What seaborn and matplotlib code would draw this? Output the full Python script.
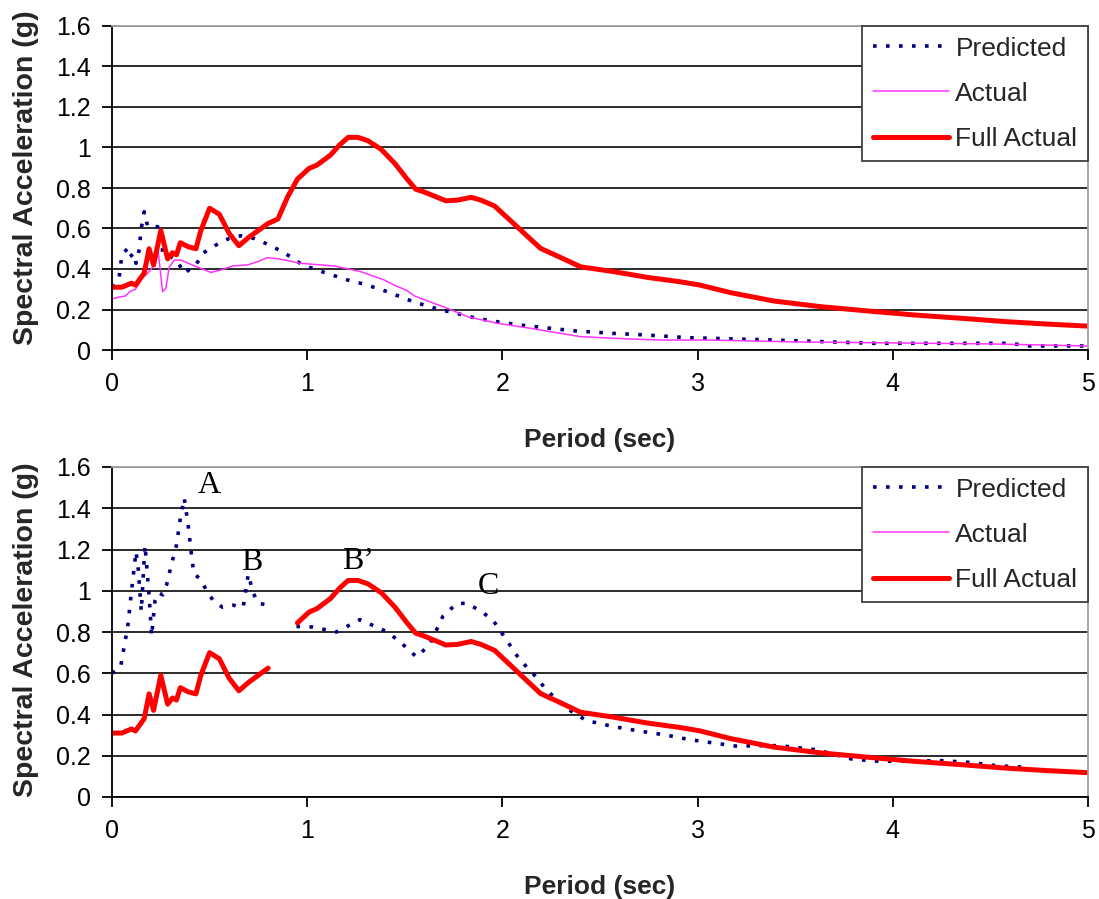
import numpy as np
import pandas as pd
import matplotlib
matplotlib.use("Agg")
import matplotlib.pyplot as plt
import seaborn as sns
from matplotlib.lines import Line2D
from matplotlib.ticker import FuncFormatter

# ---------------- data ----------------
# Full Actual (same record in both panels)
full_T = [0, 0.05, 0.1, 0.12, 0.165, 0.19, 0.213, 0.25, 0.285, 0.31, 0.33, 0.35, 0.39, 0.43,
          0.455, 0.50, 0.55, 0.60, 0.65, 0.70, 0.80, 0.85, 0.90, 0.95, 1.01, 1.05, 1.12, 1.165,
          1.21, 1.26, 1.31, 1.38, 1.45, 1.51, 1.556, 1.60, 1.71, 1.77, 1.84, 1.89, 1.96, 2.075,
          2.195, 2.30, 2.40, 2.57, 2.74, 2.91, 3.01, 3.17, 3.39, 3.63, 3.87, 4.11, 4.36, 4.58,
          4.79, 5.0]
full_SA = [0.31, 0.31, 0.33, 0.32, 0.38, 0.50, 0.42, 0.59, 0.45, 0.48, 0.47, 0.53, 0.51, 0.50,
           0.59, 0.70, 0.67, 0.576, 0.515, 0.556, 0.625, 0.647, 0.757, 0.844, 0.897, 0.913, 0.963,
           1.012, 1.05, 1.05, 1.034, 0.99, 0.92, 0.846, 0.794, 0.78, 0.737, 0.74, 0.754, 0.74,
           0.711, 0.609, 0.502, 0.456, 0.411, 0.387, 0.359, 0.337, 0.321, 0.283, 0.242, 0.214,
           0.193, 0.173, 0.156, 0.14, 0.128, 0.118]

# Actual (top panel)
act_T = [0, 0.03, 0.07, 0.09, 0.12, 0.155, 0.19, 0.216, 0.237, 0.259, 0.276, 0.293, 0.319,
         0.353, 0.404, 0.455, 0.507, 0.558, 0.617, 0.694, 0.745, 0.796, 0.865, 0.967, 1.138,
         1.274, 1.394, 1.445, 1.513, 1.547, 1.65, 1.718, 1.82, 1.974, 2.145, 2.40, 2.656, 2.83,
         3.07, 3.5, 4.0, 4.5, 5.0]
act_SA = [0.252, 0.26, 0.267, 0.288, 0.30, 0.354, 0.387, 0.42, 0.485, 0.288, 0.305, 0.41,
          0.444, 0.444, 0.423, 0.403, 0.383, 0.395, 0.415, 0.42, 0.436, 0.456, 0.448, 0.428,
          0.415, 0.387, 0.346, 0.321, 0.293, 0.268, 0.23, 0.206, 0.165, 0.132, 0.107, 0.066,
          0.054, 0.049, 0.049, 0.04, 0.035, 0.03, 0.02]

# Predicted (top panel)
pred_T = [0, 0.037, 0.043, 0.055, 0.08, 0.09, 0.114, 0.123, 0.14, 0.148, 0.165, 0.183, 0.21,
          0.234, 0.247, 0.284, 0.302, 0.336, 0.37, 0.43, 0.464, 0.532, 0.60, 0.66, 0.728,
          0.788, 0.856, 0.916, 0.976, 1.10, 1.223, 1.29, 1.41, 1.547, 1.684, 1.752, 1.87, 1.99,
          2.12, 2.247, 2.375, 2.57, 2.74, 2.946, 3.4, 3.9, 4.6, 4.7, 5.0]
pred_SA = [0.31, 0.36, 0.42, 0.477, 0.50, 0.46, 0.477, 0.428, 0.497, 0.59, 0.683, 0.609, 0.61,
           0.609, 0.494, 0.494, 0.46, 0.436, 0.379, 0.42, 0.477, 0.518, 0.551, 0.564, 0.551,
           0.526, 0.494, 0.46, 0.42, 0.379, 0.341, 0.326, 0.288, 0.237, 0.198, 0.184, 0.156,
           0.137, 0.12, 0.107, 0.094, 0.082, 0.074, 0.061, 0.049, 0.033, 0.033, 0.02, 0.02]

# Predicted (bottom panel)
pred2_T = [0, 0.044, 0.066, 0.08, 0.10, 0.123, 0.135, 0.15, 0.169, 0.19, 0.203, 0.22, 0.24,
           0.26, 0.28, 0.305, 0.33, 0.35, 0.37, 0.39, 0.41, 0.42, 0.45, 0.485, 0.52, 0.566,
           0.62, 0.672, 0.698, 0.723, 0.749, 0.80, 0.877,
           0.945, 1.03, 1.15, 1.27, 1.405, 1.474, 1.56, 1.627, 1.695, 1.764, 1.815, 1.883,
           1.95, 2.02, 2.088, 2.156, 2.225, 2.327, 2.43, 2.566, 2.70, 2.84, 2.96, 3.21, 3.28,
           3.42, 3.61, 3.79, 3.93, 4.25, 4.39, 4.53, 4.66]
pred2_SA = [0.60, 0.63, 0.75, 0.82, 1.00, 1.19, 1.10, 0.90, 1.22, 0.98, 0.78, 0.95, 0.99,
            0.98, 1.03, 1.13, 1.22, 1.35, 1.45, 1.32, 1.15, 1.08, 1.06, 1.00, 0.95, 0.92,
            0.93, 0.92, 1.08, 0.99, 0.94, 0.93, 0.915,
            0.827, 0.824, 0.80, 0.86, 0.803, 0.754, 0.679, 0.738, 0.876, 0.937, 0.94, 0.905,
            0.86, 0.763, 0.666, 0.60, 0.52, 0.431, 0.371, 0.342, 0.32, 0.30, 0.278, 0.245,
            0.249, 0.249, 0.229, 0.184, 0.173, 0.176, 0.168, 0.152, 0.145]

# blank (missing) period interval in bottom panel
gap_lo, gap_hi = 0.82, 0.93

annot_labels = ["A", "B", "B\u2019", "C"]
annot_T = [0.50, 0.715, 1.26, 1.93]
annot_SA = [1.51, 1.135, 1.14, 1.02]

legend_labels = ["Predicted", "Actual", "Full Actual"]
x_ticks = [0, 1, 2, 3, 4, 5]
y_ticks = [0, 0.2, 0.4, 0.6, 0.8, 1.0, 1.2, 1.4, 1.6]

# ---------------- style ----------------
sns.set_theme(style="white")
plt.rcParams["font.family"] = ["Liberation Sans", "DejaVu Sans"]

C_PRED = "#000080"
C_ACT = "#ff33ff"
C_FULL = "#ff0000"
pred_kw = dict(color=C_PRED, lw=2.6, linestyle=(0, (1.0, 2.6)), dash_capstyle="butt")
act_kw = dict(color=C_ACT, lw=1.1)
full_kw = dict(color=C_FULL, lw=3.6)


def segs(T, SA):
    df = pd.DataFrame({"T": T, "SA": SA})
    df = df[(df["T"] <= gap_lo) | (df["T"] >= gap_hi)].copy()
    df["seg"] = (df["T"] >= gap_hi).astype(int)
    return df


W, H = 1099, 899
fig = plt.figure(figsize=(W / 100, H / 100), dpi=100)
ax1 = fig.add_axes([112 / W, 1 - 350 / H, (1088 - 112) / W, (350 - 26) / H])
ax2 = fig.add_axes([112 / W, 1 - 797 / H, (1088 - 112) / W, (797 - 467) / H])

# top panel
sns.lineplot(x=pred_T, y=pred_SA, ax=ax1, sort=False, estimator=None, **pred_kw)
sns.lineplot(x=act_T, y=act_SA, ax=ax1, sort=False, estimator=None, **act_kw)
sns.lineplot(x=full_T, y=full_SA, ax=ax1, sort=False, estimator=None, **full_kw)

# bottom panel
dp = segs(pred2_T, pred2_SA)
df_full = segs(full_T, full_SA)
sns.lineplot(data=dp, x="T", y="SA", units="seg", estimator=None, sort=False, ax=ax2, **pred_kw)
sns.lineplot(data=df_full, x="T", y="SA", units="seg", estimator=None, sort=False, ax=ax2, **act_kw)
sns.lineplot(data=df_full, x="T", y="SA", units="seg", estimator=None, sort=False, ax=ax2, **full_kw)

for lab, t, s in zip(annot_labels, annot_T, annot_SA):
    ax2.text(t, s, lab, family="Liberation Serif", fontsize=23, ha="center", va="center",
             color="black")

handles = [Line2D([], [], **pred_kw), Line2D([], [], **act_kw), Line2D([], [], **full_kw)]

for ax in (ax1, ax2):
    ax.set_xlim(0, 5)
    ax.set_ylim(0, 1.6)
    ax.set_xticks(x_ticks)
    ax.set_yticks(y_ticks)
    ax.yaxis.set_major_formatter(FuncFormatter(lambda v, p: f"{v:g}"))
    ax.xaxis.set_major_formatter(FuncFormatter(lambda v, p: f"{v:g}"))
    ax.grid(axis="y", color="#1a1a1a", lw=1.3)
    ax.grid(axis="x", visible=False)
    ax.set_axisbelow(True)
    for s in ("left", "bottom"):
        ax.spines[s].set_color("black")
        ax.spines[s].set_linewidth(1.3)
    for s in ("top", "right"):
        ax.spines[s].set_color("#a0a0a0")
        ax.spines[s].set_linewidth(1.3)
    ax.tick_params(axis="both", which="major", bottom=True, left=True, direction="out",
                   length=7, width=1.3, color="black", labelsize=18, labelcolor="black")
    ax.tick_params(axis="x", pad=9)
    ax.tick_params(axis="y", pad=8)
    ax.set_xlabel("Period (sec)", fontsize=19, fontweight="bold", labelpad=23)
    ax.set_ylabel("")
    leg = ax.legend(handles, legend_labels, loc="upper right", bbox_to_anchor=(1.0, 1.0),
                    borderaxespad=0.0, fontsize=19, frameon=True, fancybox=False,
                    framealpha=1.0, edgecolor="#404040", borderpad=0.4, labelspacing=0.8,
                    handlelength=2.9, handletextpad=0.23)
    leg.get_frame().set_linewidth(1.3)

fig.text(26 / W, 1 - 178 / H, "Spectral Acceleration (g)", rotation=90, ha="center",
         va="center", fontsize=20.5, fontweight="bold")
fig.text(26 / W, 1 - 630 / H, "Spectral Acceleration (g)", rotation=90, ha="center",
         va="center", fontsize=20.5, fontweight="bold")

fig.savefig("out.png", dpi=100, facecolor="white")
